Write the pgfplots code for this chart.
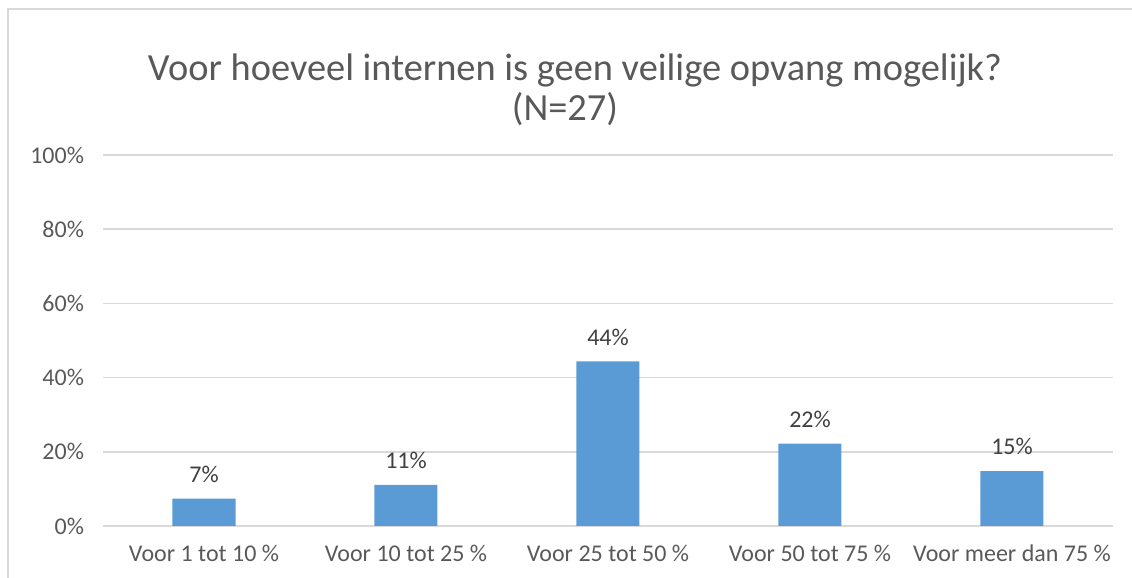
\documentclass[border=0pt]{standalone}
\usepackage{fontspec}
\setmainfont{Carlito}
\usepackage{pgfplots}
\pgfplotsset{compat=1.18}
\definecolor{barblue}{HTML}{5B9BD5}
\definecolor{txtgray}{HTML}{595959}
\definecolor{lblgray}{HTML}{404040}
\definecolor{gridgray}{HTML}{D9D9D9}
\begin{document}
\begin{tikzpicture}[x=0.5pt,y=0.5pt]
\useasboundingbox (0,0) rectangle (1132,578);
% chart frame (only left and top edges are visible)
\draw[gridgray,line width=1pt] (8,0) -- (8,569) -- (1132,569);
\node[txtgray,font=\fontsize{19.2}{20}\selectfont,align=center] at (575,488)
  {Voor hoeveel internen is geen veilige opvang mogelijk?\\(N=27)\hspace*{10pt}};
\begin{axis}[
  at={(51.5pt,26pt)}, anchor=south west,
  scale only axis, width=505pt, height=185.5pt,
  xmin=-0.5, xmax=4.5, ymin=0, ymax=100,
  xtick={0,1,2,3,4},
  xticklabels={Voor 1 tot 10 \%,Voor 10 tot 25 \%,Voor 25 tot 50 \%,Voor 50 tot 75 \%,Voor meer dan 75 \%},
  ytick={0,20,40,60,80,100},
  yticklabel={\pgfmathprintnumber{\tick}\%},
  /pgf/number format/assume math mode=true,
  tick label style={font=\fontsize{12}{14}\selectfont,text=txtgray},
  xticklabel style={yshift=-6pt},
  yticklabel style={xshift=-6pt},
  major tick length=0pt,
  axis line style={draw=none},
  ymajorgrids, grid style={gridgray,line width=0.8pt},
  ybar, bar width=31.5pt,
  nodes near coords={\pgfmathprintnumber[fixed,precision=0]{\pgfplotspointmeta}\%},
  nodes near coords style={font=\fontsize{12}{14}\selectfont,text=lblgray,yshift=4.5pt},
  point meta=explicit,
]
\addplot[fill=barblue,draw=none] coordinates {
  (0,7.4) [7]
  (1,11.1) [11]
  (2,44.4) [44]
  (3,22.2) [22]
  (4,14.8) [15]
};
\end{axis}
\end{tikzpicture}
\end{document}
